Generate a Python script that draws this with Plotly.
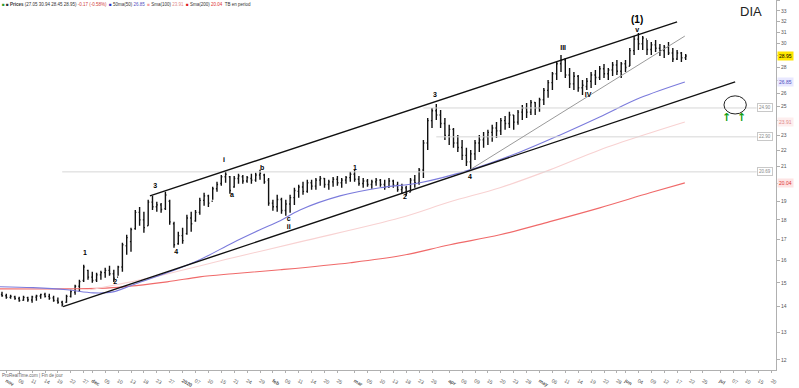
import math
import pandas as pd
import plotly.graph_objects as go

# ---------------- data ----------------
holidays = ["2019-11-28", "2019-12-25", "2020-01-01", "2020-01-20", "2020-02-17",
            "2020-04-10", "2020-05-25", "2020-07-03"]
calendar = pd.bdate_range("2019-10-31", "2020-07-31", freq="C", holidays=holidays)

high = [14.62,14.53,14.49,14.45,14.41,14.45,14.41,14.45,14.49,14.53,
        14.57,14.53,14.45,14.37,14.24,14.49,14.70,14.92,15.13,15.81,
        15.58,15.49,15.44,15.53,15.67,15.76,15.58,15.76,16.85,17.24,
        17.59,18.53,18.69,18.43,19.08,19.30,18.97,18.91,19.53,19.08,
        17.91,17.39,17.59,18.27,18.43,18.53,19.19,19.47,19.36,19.82,
        20.10,20.51,20.69,20.45,20.45,20.57,20.51,20.45,20.57,20.63,
        20.81,20.57,20.33,19.08,19.36,19.19,19.08,19.36,19.76,19.93,
        20.10,20.22,20.22,20.33,20.45,20.33,20.22,20.39,20.45,20.33,
        20.45,20.69,20.81,20.45,20.33,20.27,20.22,20.33,20.27,20.22,
        20.33,20.22,20.10,19.99,19.87,20.33,20.51,20.93,22.70,24.19,
        24.90,25.19,24.76,24.19,23.71,23.50,23.03,22.70,22.18,22.05,
        22.70,23.03,23.23,23.37,23.71,23.91,24.19,24.33,24.62,24.40,
        24.76,25.12,25.27,25.49,25.34,25.64,26.39,27.01,27.64,28.45,
        29.03,28.78,27.96,27.64,27.40,27.01,27.16,27.64,27.80,28.12,
        28.29,27.96,28.45,28.62,28.45,28.62,29.63,30.67,30.94,30.67,
        30.32,30.15,30.32,29.98,29.89,30.15,29.63,29.46,29.29,29.12]
low = [14.41,14.32,14.32,14.28,14.20,14.24,14.20,14.16,14.24,14.32,
       14.37,14.28,14.20,14.12,14.00,14.16,14.37,14.49,14.61,15.04,
       15.13,15.00,15.04,15.13,15.22,15.31,15.04,15.31,15.49,16.27,
       16.41,17.49,17.70,17.34,17.70,18.53,18.43,18.38,18.53,17.75,
       16.61,16.75,16.80,17.24,17.39,17.91,18.27,18.75,18.69,19.08,
       19.53,19.87,20.05,19.42,19.76,19.99,19.99,20.05,19.99,20.10,
       20.22,19.99,18.75,18.48,18.43,18.32,18.22,18.38,18.80,19.19,
       19.36,19.47,19.64,19.64,19.87,19.76,19.64,19.82,19.87,19.76,
       19.99,20.10,20.10,19.87,19.76,19.82,19.70,19.87,19.82,19.64,
       19.76,19.76,19.53,19.42,19.30,19.53,19.76,19.93,20.33,22.05,
       23.50,24.05,23.50,22.70,22.37,22.18,21.92,21.42,21.05,20.81,
       21.42,21.92,22.18,22.37,22.57,22.83,23.03,23.37,23.50,23.37,
       23.71,24.05,24.19,24.40,24.40,24.62,25.12,25.64,26.24,27.01,
       27.64,27.16,26.39,26.24,26.09,25.86,26.24,26.39,26.62,27.01,
       27.16,27.01,27.32,27.40,27.16,27.64,28.12,29.03,29.46,29.46,
       29.03,29.03,29.29,28.95,28.78,29.03,28.45,28.62,28.45,28.62]
open_ = [14.50,14.45,14.38,14.40,14.33,14.26,14.37,14.27,14.39,14.44,
         14.50,14.42,14.36,14.25,14.18,14.18,14.42,14.60,14.85,15.10,
         15.55,15.25,15.12,15.35,15.45,15.55,15.40,15.25,15.70,16.70,
         16.90,17.55,18.40,18.00,17.70,18.95,18.70,18.80,18.60,19.00,
         17.80,16.80,17.20,17.30,18.10,17.95,18.40,19.05,19.30,19.00,
         19.70,20.00,20.40,20.40,19.80,20.30,20.40,20.15,20.30,20.20,
         20.50,20.50,20.20,18.90,18.70,19.10,18.50,18.85,19.20,19.55,
         19.80,19.55,20.05,19.85,20.20,20.30,19.95,20.10,20.25,20.05,
         20.20,20.35,20.55,20.25,20.00,20.15,19.95,20.10,20.20,19.95,
         19.80,20.15,19.90,19.65,19.75,19.50,20.20,20.05,20.80,22.50,
         24.00,24.70,24.40,23.80,23.00,23.40,22.50,22.20,21.70,21.30,
         21.80,22.50,22.70,22.90,23.20,23.50,23.30,24.00,23.80,24.40,
         23.90,24.60,24.90,24.60,25.30,24.90,25.50,26.20,26.80,27.50,
         28.30,28.60,27.40,26.70,27.30,26.40,26.50,26.90,27.40,27.20,
         27.90,27.50,27.80,28.20,27.70,28.30,28.10,29.40,30.40,30.00,
         30.40,29.50,29.90,29.60,29.40,29.70,29.20,28.70,29.20,28.80]
close = [14.45,14.38,14.42,14.33,14.25,14.38,14.28,14.40,14.44,14.50,
         14.42,14.35,14.25,14.18,14.10,14.42,14.62,14.85,15.05,15.70,
         15.25,15.10,15.35,15.45,15.55,15.40,15.20,15.70,16.75,17.10,
         17.50,18.40,18.00,17.60,18.95,18.70,18.80,18.55,19.35,17.90,
         16.75,17.20,16.95,18.10,17.80,18.40,19.05,19.30,18.90,19.70,
         19.95,20.40,20.55,19.60,20.30,20.45,20.15,20.35,20.20,20.50,
         20.60,20.10,18.90,18.70,19.10,18.50,18.85,19.20,19.60,19.80,
         19.55,20.05,19.85,20.20,20.30,19.95,20.10,20.25,20.05,20.20,
         20.35,20.55,20.25,20.00,20.15,19.95,20.10,20.20,19.95,19.80,
         20.15,19.90,19.65,19.75,19.45,20.20,20.05,20.80,22.50,24.00,
         24.70,24.40,23.80,23.00,23.40,22.50,22.20,21.70,21.30,21.80,
         22.50,22.70,22.90,23.20,23.50,23.30,24.00,23.80,24.40,23.90,
         24.60,24.90,24.60,25.30,24.90,25.50,26.20,26.80,27.50,28.30,
         28.60,27.40,26.70,27.30,26.40,26.60,26.90,27.40,27.20,27.90,
         27.50,27.80,28.20,27.70,28.30,28.00,29.40,30.40,30.00,30.50,
         29.50,29.90,29.60,29.40,29.70,29.20,28.70,29.20,28.80,28.95]

# moving averages read at selected bars (bar index, value)
ma50_idx = [-0.5, 7.2, 15.1, 21.2, 25.8, 30.5, 38.4, 46, 53.7, 60, 64.7, 69.3, 78.6,
            87.9, 97.2, 108.8, 120.5, 129.8, 139, 148.4, 158.8]
ma50_val = [14.83, 14.79, 14.70, 14.57, 14.61, 14.92, 15.44, 16.04, 16.85, 17.49, 17.96,
            18.53, 19.30, 19.76, 20.05, 20.81, 21.92, 23.03, 24.26, 25.64, 26.85]
ma100_idx = [20.5, 34.4, 53.7, 69.3, 92.6, 104.2, 115.8, 127.4, 139, 150.7, 158.8]
ma100_val = [14.70, 15.22, 16.13, 16.89, 18.11, 18.97, 19.76, 20.81, 22.05, 23.16, 23.91]
ma200_idx = [-0.5, 15.1, 25.8, 38.4, 46, 53.7, 64.7, 81, 92.6, 104.2, 115.8, 127.4,
             139, 150.7, 158.8]
ma200_val = [14.74, 14.74, 14.79, 15.04, 15.26, 15.40, 15.58, 15.90, 16.22, 16.75,
             17.24, 17.91, 18.64, 19.47, 20.04]

# drawn trend lines (bar index, price)
lower_channel_x = [14.2, 170.5]
lower_channel_y = [14.00, 26.85]
upper_channel_x = [34.4, 157.0]
upper_channel_y = [19.30, 31.95]
grey_trend_x = [108.8, 158.8]
grey_trend_y = [20.81, 30.67]

# horizontal levels (start bar, price)
level_start = [98, 101, 14]
level_price = [24.90, 22.90, 20.69]

# wave labels
wave_text = ["1", "2", "3", "4", "i", "a", "b", "c", "ii", "1", "2", "3", "4", "III", "IV", "v"]
wave_x = [19.3, 26.3, 35.6, 40.5, 51.6, 53.5, 60.5, 66.7, 66.7, 82.1, 93.7, 100.7, 108.8,
          130.5, 136.3, 147.7]
wave_y = [16.32, 15.04, 19.82, 16.37, 21.42, 19.36, 20.93, 18.06, 17.64, 20.93, 19.25,
          25.86, 20.39, 29.63, 25.86, 31.21]
top_label = "(1)"
top_label_x = 147.7
top_label_y = 32.13

# target zone
zone_x = [167.9, 173.1]
zone_y = [24.47, 25.79]
arrow_x = [168.5, 172.0]
arrow_y = [24.20, 24.20]

y_ticks = list(range(12, 35))
hidden_tick_labels = [29, 27, 24, 20]
last_price = 28.95

# ---------------- figure ----------------
N = len(high)
xs = list(range(N))
fig = go.Figure()

fig.add_trace(go.Scatter(x=ma200_idx, y=ma200_val, mode="lines",
                         line=dict(color="#f06a6a", width=1.1, shape="spline"), hoverinfo="skip"))
fig.add_trace(go.Scatter(x=ma100_idx, y=ma100_val, mode="lines",
                         line=dict(color="#f8d2d2", width=1.1, shape="spline"), hoverinfo="skip"))
fig.add_trace(go.Scatter(x=ma50_idx, y=ma50_val, mode="lines",
                         line=dict(color="#7b7bdc", width=1.1, shape="spline"), hoverinfo="skip"))

for s, p in zip(level_start, level_price):
    fig.add_trace(go.Scatter(x=[s, 175.5], y=[p, p], mode="lines",
                             line=dict(color="#d6d6d6", width=1), hoverinfo="skip"))

fig.add_trace(go.Scatter(x=grey_trend_x, y=grey_trend_y, mode="lines",
                         line=dict(color="#9a9a9a", width=1), hoverinfo="skip"))
fig.add_trace(go.Scatter(x=lower_channel_x, y=lower_channel_y, mode="lines",
                         line=dict(color="#111111", width=1.4), hoverinfo="skip"))
fig.add_trace(go.Scatter(x=upper_channel_x, y=upper_channel_y, mode="lines",
                         line=dict(color="#111111", width=1.4), hoverinfo="skip"))

fig.add_trace(go.Ohlc(x=xs, open=open_, high=high, low=low, close=close,
                      increasing=dict(line=dict(color="#111111", width=1.4)),
                      decreasing=dict(line=dict(color="#111111", width=1.4)),
                      tickwidth=0.25, hoverinfo="skip"))

fig.add_trace(go.Scatter(x=wave_x, y=wave_y, mode="text",
                         text=["<b>%s</b>" % t for t in wave_text],
                         textfont=dict(size=7, color="#000000", family="Liberation Sans"),
                         hoverinfo="skip"))
fig.add_trace(go.Scatter(x=[top_label_x], y=[top_label_y], mode="text",
                         text=["<b>%s</b>" % top_label],
                         textfont=dict(size=10, color="#000000", family="Liberation Sans"),
                         hoverinfo="skip"))
fig.add_trace(go.Scatter(x=arrow_x, y=arrow_y, mode="text", text=["<b>↑</b>", "<b>↑</b>"],
                         textfont=dict(size=11, color="#12a012", family="DejaVu Sans"),
                         hoverinfo="skip"))

fig.add_shape(type="circle", xref="x", yref="y", x0=zone_x[0], x1=zone_x[1],
              y0=zone_y[0], y1=zone_y[1], line=dict(color="#222222", width=1))

# x ticks: month starts bold, then every 3 sessions
ext = calendar[:181]
month_start = [i for i in range(1, len(ext)) if ext[i].month != ext[i - 1].month]
mnames = {1: "2020", 2: "feb", 3: "mar", 4: "apr", 5: "may", 6: "jun", 7: "jul",
          8: "aug", 11: "nov", 12: "dec", 10: "oct"}
tickvals, ticktext = [], []
last = -10
for i in range(len(ext)):
    if i in month_start:
        tickvals.append(i)
        ticktext.append("<b>%s</b>" % mnames[ext[i].month])
        last = i
    elif i - last >= 3:
        nxt = [m for m in month_start if m > i]
        if nxt and nxt[0] - i < 2:
            continue
        tickvals.append(i)
        ticktext.append(ext[i].strftime("%d"))
        last = i

fig.update_layout(
    width=799, height=388,
    margin=dict(l=0, r=23, t=0, b=18, autoexpand=False),
    paper_bgcolor="white", plot_bgcolor="white",
    showlegend=False,
    font=dict(family="Liberation Sans", color="#444444"),
    xaxis=dict(range=[-0.465, 180], tickvals=tickvals, ticktext=ticktext, automargin=False,
               tickfont=dict(size=5, color="#555555"), showgrid=False, zeroline=False,
               showline=True, linecolor="#b0b0b0", linewidth=1, ticks="outside", ticklen=2,
               ticklabelstandoff=3,
               tickcolor="#b0b0b0", rangeslider=dict(visible=False), fixedrange=True),
    yaxis=dict(type="log", side="right", automargin=False,
               range=[math.log10(11.65), math.log10(34.05)],
               tickvals=y_ticks,
               ticktext=["" if v in hidden_tick_labels else str(v) for v in y_ticks],
               tickfont=dict(size=5, color="#555555"), showgrid=False, zeroline=False,
               showline=True, linecolor="#b0b0b0", linewidth=1, ticks="outside", ticklen=3,
               tickcolor="#b0b0b0", fixedrange=True),
)

# right-hand value tags
tags = [(last_price, "#ffe600", "#000000"), (ma50_val[-1], "#e8e8ff", "#5050c0"),
        (ma100_val[-1], "#fdeeee", "#e08a8a"), (ma200_val[-1], "#fde4e4", "#e03030")]
for v, bg, fg in tags:
    fig.add_annotation(xref="paper", x=1, xanchor="left", xshift=1, yref="y",
                       y=math.log10(v), text="%.2f" % v, showarrow=False,
                       font=dict(size=5, color=fg), bgcolor=bg, borderpad=1)
for p in level_price:
    fig.add_annotation(xref="x", x=175.5, xanchor="left", yref="y", y=math.log10(p),
                       text="%.2f" % p, showarrow=False, font=dict(size=4.5, color="#888888"),
                       bgcolor="white", bordercolor="#c8c8c8", borderwidth=1, borderpad=1)

fig.add_annotation(xref="paper", yref="paper", x=0.985, y=0.995, xanchor="right", yanchor="top",
                   text="DIA", showarrow=False, font=dict(size=13, color="#222222"))
fig.add_annotation(
    xref="paper", yref="paper", x=0.0, y=1.0, xanchor="left", yanchor="top", showarrow=False,
    font=dict(size=4.5, color="#333333"),
    text=("<span style='color:#2a9a2a'>■</span> ■ <b>Prices</b> (27.05 30.94 28.45 28.95) "
          "<span style='color:#d04040'>-0.17 (-0.58%)</span>  "
          "<span style='color:#3030c0'>■</span> 50ma(50) <span style='color:#5050c0'>26.85</span>  "
          "<span style='color:#f2a0a0'>■</span> Sma(100) <span style='color:#e08a8a'>23.91</span>  "
          "<span style='color:#e02020'>■</span> Sma(200) <span style='color:#e03030'>20.04</span>  "
          "TB en period"))
fig.add_annotation(xref="paper", yref="paper", x=0.0, y=-0.004, xanchor="left", yanchor="top",
                   showarrow=False, text="ProRealTime.com | Fin de jour",
                   font=dict(size=4.5, color="#666666"))

fig.write_html("out.html", config={"displayModeBar": False},
               post_script="document.body.style.margin='0';document.body.style.padding='0';")
